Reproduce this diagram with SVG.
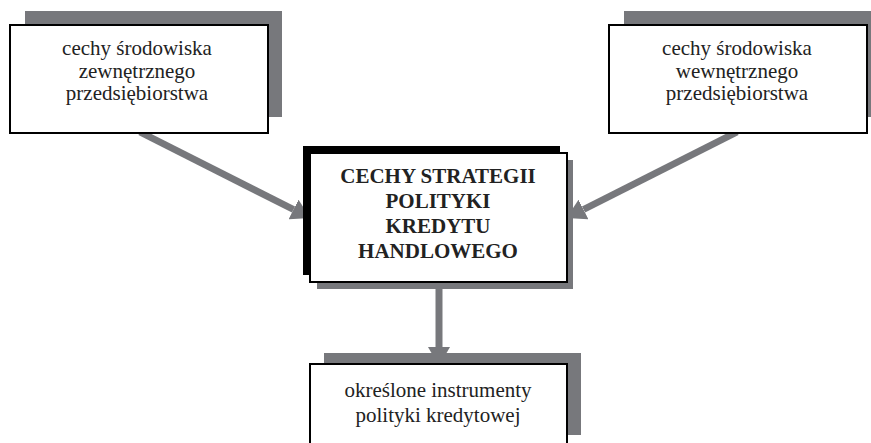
<svg xmlns="http://www.w3.org/2000/svg" width="871" height="443" viewBox="0 0 871 443">
<style>
.sh{fill:#77787c}
.box{fill:#fff;stroke:#000;stroke-width:2}
.t{font-family:"Liberation Serif","Times New Roman",serif;font-size:21px;fill:#222;text-anchor:middle}
.b{font-family:"Liberation Serif","Times New Roman",serif;font-size:21px;font-weight:bold;fill:#222;text-anchor:middle}
.c{stroke:#77787c;stroke-width:7;fill:none}
</style>
<defs>
<marker id="ah" markerUnits="userSpaceOnUse" markerWidth="20" markerHeight="22" refX="0" refY="11" orient="auto">
<path d="M0,0 L19,11 L0,22 z" fill="#77787c"/>
</marker>
</defs>
<rect width="871" height="443" fill="#fff"/>
<g id="connectors">
<line class="c" x1="140" y1="132" x2="293.5" y2="209.5" marker-end="url(#ah)"/>
<line class="c" x1="737" y1="132" x2="583.5" y2="209.5" marker-end="url(#ah)"/>
<line class="c" x1="439" y1="289" x2="439" y2="347" marker-end="url(#ah)"/>
</g>
<g id="node-zewn">
<rect class="sh" x="25" y="11" width="257" height="106"/>
<rect class="box" x="10" y="25" width="258" height="108"/>
<text class="t" x="137" y="55">cechy środowiska</text>
<text class="t" x="137" y="77.5">zewnętrznego</text>
<text class="t" x="137" y="100">przedsiębiorstwa</text>
</g>
<g id="node-wewn">
<rect class="sh" x="624" y="11" width="247" height="106"/>
<rect class="box" x="609" y="25" width="258" height="108"/>
<text class="t" x="737" y="55">cechy środowiska</text>
<text class="t" x="737" y="77.5">wewnętrznego</text>
<text class="t" x="737" y="100">przedsiębiorstwa</text>
</g>
<g id="node-center">
<rect class="sh" x="317" y="160" width="256" height="129"/>
<rect fill="#000" x="303" y="146" width="257" height="129"/>
<rect class="box" x="310" y="153" width="257" height="129"/>
<text class="b" x="438" y="183">CECHY STRATEGII</text>
<text class="b" x="438" y="208">POLITYKI</text>
<text class="b" x="438" y="232.5">KREDYTU</text>
<text class="b" x="438" y="258">HANDLOWEGO</text>
</g>
<g id="node-instr">
<rect class="sh" x="324" y="353" width="257" height="82"/>
<rect class="box" x="310" y="364" width="257" height="100"/>
<text class="t" x="438" y="397">określone instrumenty</text>
<text class="t" x="438" y="422">polityki kredytowej</text>
</g>
</svg>
